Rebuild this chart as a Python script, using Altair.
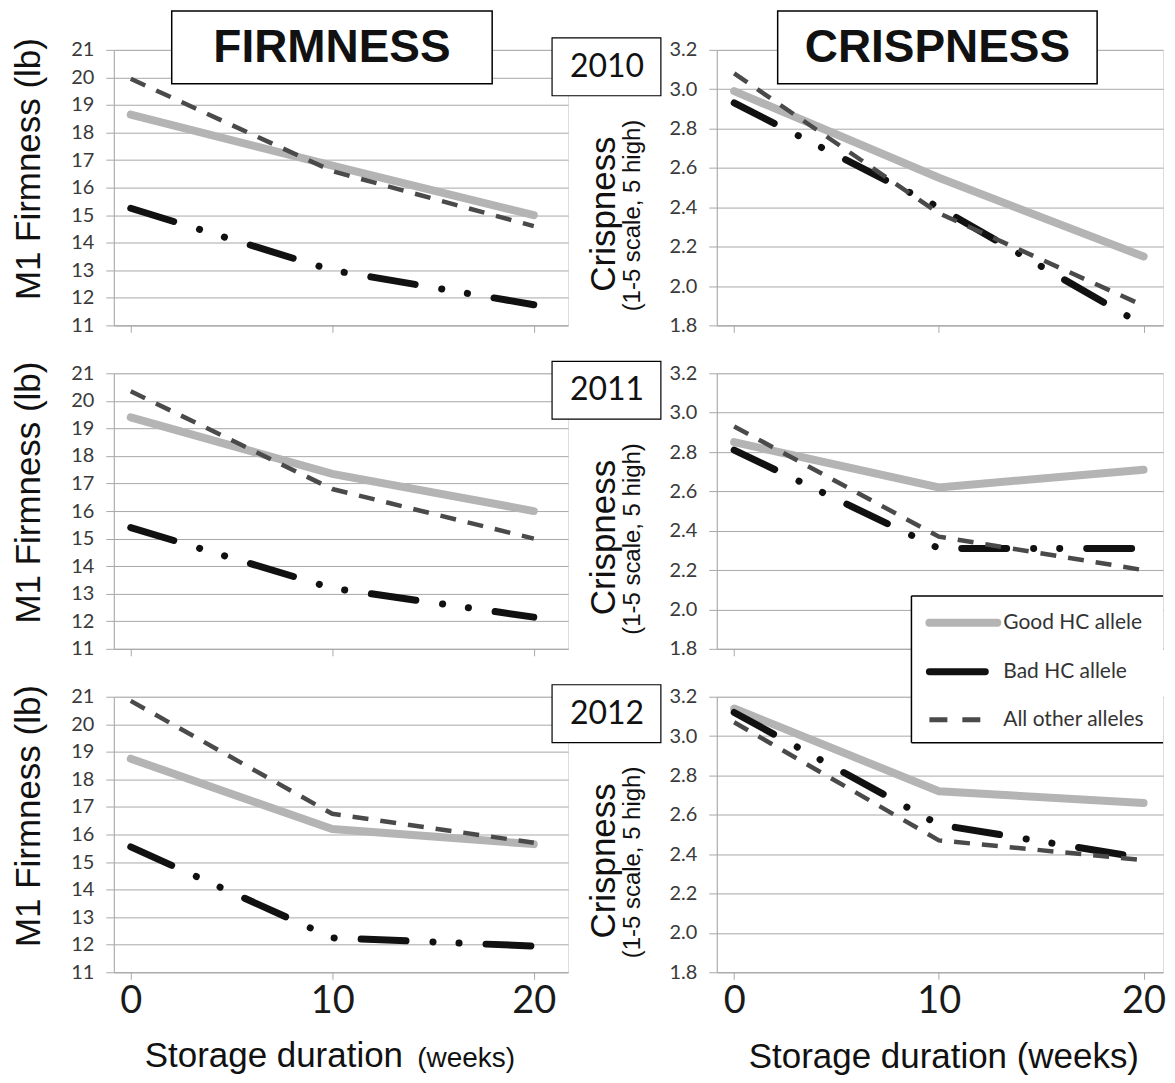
import altair as alt
import pandas as pd

# ---------------- data ----------------
weeks = [0, 10, 20]
alleles = ["Good HC allele", "Bad HC allele", "All other alleles"]
years = ["2010", "2011", "2012"]
panel_titles = ["FIRMNESS", "CRISPNESS"]

firm_good_2010 = [18.65, 16.8, 15.0]
firm_bad_2010 = [15.25, 13.0, 11.75]
firm_other_2010 = [19.95, 16.6, 14.6]
firm_good_2011 = [19.4, 17.35, 16.0]
firm_bad_2011 = [15.4, 13.2, 12.15]
firm_other_2011 = [20.35, 16.8, 15.0]
firm_good_2012 = [18.75, 16.2, 15.65]
firm_bad_2012 = [15.55, 12.25, 11.95]
firm_other_2012 = [20.85, 16.75, 15.7]

crisp_good_2010 = [2.99, 2.55, 2.15]
crisp_bad_2010 = [2.93, 2.40, 1.80]
crisp_other_2010 = [3.08, 2.37, 1.90]
crisp_good_2011 = [2.85, 2.62, 2.71]
crisp_bad_2011 = [2.81, 2.31, 2.31]
crisp_other_2011 = [2.93, 2.37, 2.20]
crisp_good_2012 = [3.14, 2.72, 2.66]
crisp_bad_2012 = [3.12, 2.55, 2.38]
crisp_other_2012 = [3.07, 2.47, 2.37]

firm_ticks = [11, 12, 13, 14, 15, 16, 17, 18, 19, 20, 21]
crisp_ticks = [1.8, 2.0, 2.2, 2.4, 2.6, 2.8, 3.0, 3.2]
week_ticks = [0, 10, 20]

series = {
    ("Firmness", "2010"): [firm_good_2010, firm_bad_2010, firm_other_2010],
    ("Firmness", "2011"): [firm_good_2011, firm_bad_2011, firm_other_2011],
    ("Firmness", "2012"): [firm_good_2012, firm_bad_2012, firm_other_2012],
    ("Crispness", "2010"): [crisp_good_2010, crisp_bad_2010, crisp_other_2010],
    ("Crispness", "2011"): [crisp_good_2011, crisp_bad_2011, crisp_other_2011],
    ("Crispness", "2012"): [crisp_good_2012, crisp_bad_2012, crisp_other_2012],
}

records = []
for (measure, year), lists in series.items():
    for allele, vals in zip(alleles, lists):
        for w, v in zip(weeks, vals):
            records.append(dict(measure=measure, year=year, allele=allele, week=w, value=v))
df = pd.DataFrame(records)

# ---------------- styles ----------------
GRID = "#a8a8a8"
LINE_STYLE = {
    "Good HC allele": dict(color="#b4b4b4", strokeWidth=8, strokeCap="round"),
    "Bad HC allele": dict(color="#111111", strokeWidth=7,
                          strokeDash=[45, 27, 0.1, 26, 0.1, 27], strokeCap="round"),
    "All other alleles": dict(color="#4a4a4a", strokeWidth=4.5,
                              strokeDash=[16, 12], strokeCap="butt"),
}
H = 276
TITLE_FONT = "Liberation Sans"
LABEL_FONT = "Lato"
XTITLE_Y = H + 95


def one(label):
    return pd.DataFrame({"label": [label]})


def box(x1, x2, y1, y2, sw=1.5):
    return alt.Chart(one("")).mark_rect(fill="white", stroke="black", strokeWidth=sw).encode(
        x=alt.value(x1), x2=alt.value(x2), y=alt.value(y1), y2=alt.value(y2))


def label(text, x, y, size, font=LABEL_FONT, weight="normal", align="center",
          baseline="middle", angle=0, color="#111111"):
    kw = {}
    if angle:
        kw["angle"] = angle
    return alt.Chart(one(text)).mark_text(
        font=font, fontSize=size, fontWeight=weight, align=align, baseline=baseline,
        color=color, **kw).encode(text="label:N", x=alt.value(x), y=alt.value(y))


def panel(measure, year_idx):
    year = years[year_idx]
    bottom = year_idx == 2
    sub = df[(df.measure == measure) & (df.year == year)]
    firm = measure == "Firmness"
    W = 455 if firm else 447
    xdom = [-0.84, 21.7] if firm else [-0.85, 20.95]
    ydom = [11, 21] if firm else [1.8, 3.2]

    xaxis_kw = dict(values=week_ticks, labels=bottom, grid=False, tickSize=7,
                    tickColor=GRID, domainColor=GRID, labelFont=LABEL_FONT,
                    labelFontSize=38, labelColor="#1a1a1a", labelPadding=3,
                    labelFlush=False, labelOverlap=False)
    if bottom and not firm:
        xaxis = alt.Axis(title="Storage duration (weeks)", titleFont=TITLE_FONT,
                         titleFontSize=35, titleFontWeight="normal", titleColor="#111111",
                         titleX=227, titleY=XTITLE_Y - H, titleBaseline="alphabetic",
                         titleAlign="center", **xaxis_kw)
    else:
        xaxis = alt.Axis(title=None, **xaxis_kw)

    yaxis_kw = dict(values=firm_ticks if firm else crisp_ticks,
                    format="d" if firm else ".1f", grid=True, gridColor=GRID,
                    gridWidth=1, tickSize=8, tickColor=GRID, domainColor=GRID,
                    labelFont=LABEL_FONT, labelFontSize=20, labelColor="#3a3a3a",
                    labelPadding=12, labelFlush=False, labelOverlap=False,
                    titleFont=TITLE_FONT, titleFontSize=35, titleFontWeight="normal",
                    titleColor="#111111", titleAlign="center", titleBaseline="middle")
    if firm:
        yaxis = alt.Axis(title="M1 Firmness (lb)", titleX=-85, titleY=119, **yaxis_kw)
    else:
        yaxis = alt.Axis(title="Crispness", titleX=-113, titleY=164, **yaxis_kw)

    ex = alt.X("week:Q", scale=alt.Scale(domain=xdom, nice=False, zero=False), axis=xaxis)
    ey = alt.Y("value:Q", scale=alt.Scale(domain=ydom, nice=False, zero=False), axis=yaxis)

    layers = []
    for a in alleles:
        layers.append(alt.Chart(sub).transform_filter(alt.datum.allele == a)
                      .mark_line(**LINE_STYLE[a]).encode(x=ex, y=ey))

    if not firm:
        layers.append(label("(1-5 scale, 5 high)", -84, 166, 24, font=TITLE_FONT,
                            angle=270))
        # year box (sits between the two columns)
        layers.append(box(-165, -56, -12, 46, sw=1.2))
        layers.append(label(year, -110, 17, 32))

    if year_idx == 0:
        if firm:
            layers.append(box(58, 379, -39, 34, sw=1.5))
            layers.append(label(panel_titles[0], 218.5, -2, 46, font=TITLE_FONT,
                                weight="bold"))
        else:
            layers.append(box(61, 381, -39, 34, sw=1.5))
            layers.append(label(panel_titles[1], 221, -2, 46, font=TITLE_FONT,
                                weight="bold"))

    if bottom and firm:
        layers.append(label("Storage duration", 31, XTITLE_Y, 35, font=TITLE_FONT,
                            align="left", baseline="alphabetic"))
        layers.append(label("(weeks)", 304, XTITLE_Y, 28, font=TITLE_FONT,
                            align="left", baseline="alphabetic"))

    if bottom and not firm:
        # legend (drawn in the last panel so that it sits on top of everything)
        lx1, lx2, ly1, ly2 = 195, 447, -101, 46
        layers.append(alt.Chart(one("")).mark_rect(fill="white").encode(
            x=alt.value(lx1), x2=alt.value(lx2), y=alt.value(ly1), y2=alt.value(ly2)))
        for (xa, xb, ya, yb) in [(lx1, lx2, ly1, ly1), (lx1, lx2, ly2, ly2), (lx1, lx1, ly1, ly2)]:
            layers.append(alt.Chart(one("")).mark_rule(color="black", strokeWidth=1.5).encode(
                x=alt.value(xa), x2=alt.value(xb), y=alt.value(ya), y2=alt.value(yb)))
        ys = [-74, -25, 23]
        ends = [281, 269, 265]
        for a, yy, xe in zip(alleles, ys, ends):
            st = dict(LINE_STYLE[a])
            if a == "Bad HC allele":
                st.pop("strokeDash")
            if a == "All other alleles":
                st["strokeDash"] = [18, 15]
                st["strokeWidth"] = 5
            layers.append(alt.Chart(one(a)).mark_rule(**st).encode(
                x=alt.value(213), x2=alt.value(xe), y=alt.value(yy), y2=alt.value(yy)))
            layers.append(label(a, 287, yy, 21, align="left", color="#333333"))

    return alt.layer(*layers).properties(width=W, height=H)


panels = []
for i in range(3):
    panels.append(panel("Firmness", i))
    panels.append(panel("Crispness", i))

chart = (alt.ConcatChart(concat=panels, columns=2, spacing={"row": 48, "column": 149},
                         bounds="flush", align="each")
         .properties(padding={"left": 3, "top": 0, "right": 0, "bottom": 0})
         .configure_view(stroke="transparent")
         .configure(background="white"))

chart.save("out.html", embed_options={"renderer": "svg", "actions": False})
